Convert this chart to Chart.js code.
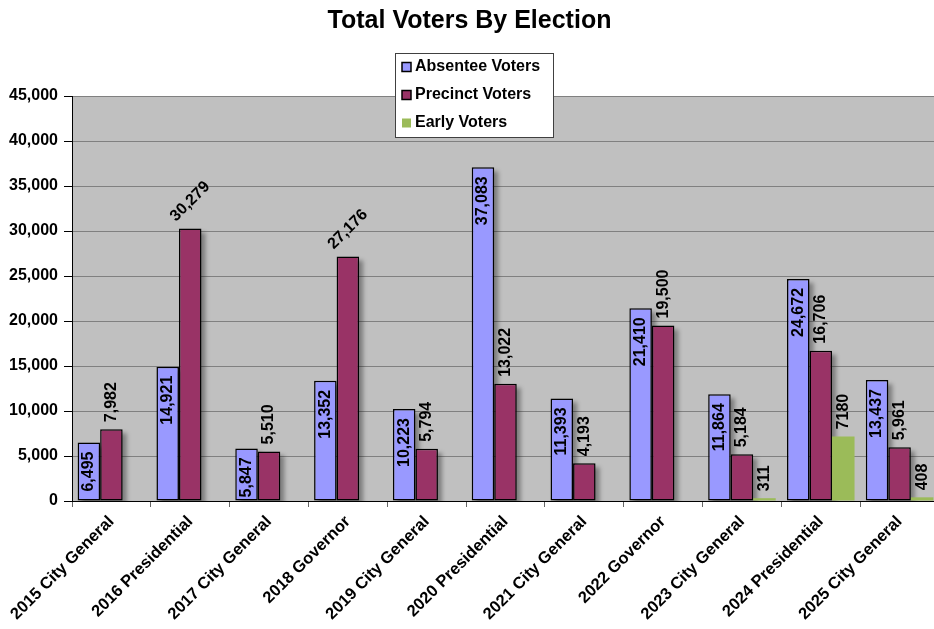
<!DOCTYPE html>
<html>
<head>
<meta charset="utf-8">
<title>Total Voters By Election</title>
<script src="https://cdn.jsdelivr.net/npm/chart.js@4.4.1/dist/chart.umd.min.js"></script>
<style>
  html, body { margin: 0; padding: 0; background: #fff; overflow: hidden; }
  #wrap { width: 934px; height: 629px; overflow: hidden; }
</style>
</head>
<body>
<div id="wrap"><canvas id="votersChart" width="939" height="629"></canvas></div>
<script>
// Election data
const elections = [
    '2015 City General', '2016 Presidential', '2017 City General', '2018 Governor',
    '2019 City General', '2020 Presidential', '2021 City General', '2022 Governor',
    '2023 City General', '2024 Presidential', '2025 City General'
];
const absenteeVoters = [6495, 14921, 5847, 13352, 10223, 37083, 11393, 21410, 11864, 24672, 13437];
const precinctVoters = [7982, 30279, 5510, 27176, 5794, 13022, 4193, 19500, 5184, 16706, 5961];
const earlyVoters = [null, null, null, null, null, null, null, null, 311, 7180, 408];

const FONT = '"Liberation Sans", Arial, sans-serif';

// precinct labels that sit tilted above their bar
const tiltedPrecinct = [1, 3];

const plotBackground = {
    id: 'plotBackground',
    beforeDraw(chart) {
        const { ctx, chartArea: a } = chart;
        ctx.save();
        ctx.fillStyle = '#C0C0C0';
        ctx.fillRect(a.left, a.top, a.width, a.height);
        ctx.restore();
    }
};

const barShadows = {
    id: 'barShadows',
    beforeDatasetsDraw(chart) {
        const { ctx, chartArea: a } = chart;
        ctx.save();
        ctx.beginPath();
        ctx.rect(a.left, a.top, a.width, a.height);
        ctx.clip();
        ctx.filter = 'blur(2px)';
        ctx.fillStyle = 'rgba(0, 0, 0, 0.35)';
        [0, 1].forEach(di => {
            chart.getDatasetMeta(di).data.forEach(bar => {
                const { x, y, base, width } = bar.getProps(['x', 'y', 'base', 'width'], true);
                if (isNaN(y)) return;
                ctx.fillRect(x - width / 2 + 4, y + 4, width, base - y);
            });
        });
        ctx.restore();
    }
};

const valueLabels = {
    id: 'valueLabels',
    afterDatasetsDraw(chart) {
        const { ctx } = chart;
        ctx.save();
        ctx.font = 'bold 16px ' + FONT;
        ctx.fillStyle = '#000';
        ctx.textBaseline = 'middle';
        chart.data.datasets.forEach((ds, di) => {
            chart.getDatasetMeta(di).data.forEach((bar, i) => {
                const v = ds.data[i];
                if (v == null) return;
                const text = di === 2 ? String(v) : v.toLocaleString('en-US');
                ctx.save();
                if (di === 0) {
                    ctx.translate(bar.x, bar.y + 9);
                    ctx.rotate(-Math.PI / 2);
                    ctx.textAlign = 'right';
                } else if (di === 1 && tiltedPrecinct.includes(i)) {
                    ctx.translate(bar.x, bar.y - 27);
                    ctx.rotate(-Math.PI / 4);
                    ctx.textAlign = 'center';
                } else {
                    ctx.translate(bar.x, bar.y - 7);
                    ctx.rotate(-Math.PI / 2);
                    ctx.textAlign = 'left';
                }
                ctx.fillText(text, 0, 0);
                ctx.restore();
            });
        });
        ctx.restore();
    }
};

const boxLegend = {
    id: 'boxLegend',
    afterDraw(chart) {
        const { ctx } = chart;
        const left = 395.5, top = 53.5, w = 158, h = 84;
        ctx.save();
        ctx.fillStyle = '#fff';
        ctx.fillRect(left, top, w, h);
        ctx.strokeStyle = '#404040';
        ctx.lineWidth = 1;
        ctx.strokeRect(left, top, w, h);
        ctx.font = 'bold 16px ' + FONT;
        ctx.textBaseline = 'middle';
        ctx.textAlign = 'left';
        chart.data.datasets.forEach((ds, i) => {
            const rowY = 67 + i * 28;
            ctx.fillStyle = ds.backgroundColor;
            ctx.fillRect(402, rowY - 4.5, 9, 9);
            if (ds.borderWidth) {
                ctx.strokeStyle = '#000';
                ctx.lineWidth = 1.5;
                ctx.strokeRect(402, rowY - 4.5, 9, 9);
            }
            ctx.fillStyle = '#000';
            ctx.fillText(ds.label, 415, rowY);
        });
        ctx.restore();
    }
};

const ctx = document.getElementById('votersChart').getContext('2d');

new Chart(ctx, {
    type: 'bar',
    data: {
        labels: elections,
        datasets: [{
            label: 'Absentee Voters',
            data: absenteeVoters,
            backgroundColor: '#9999FF',
            borderColor: '#000',
            borderWidth: 1.5,
            borderSkipped: false
        }, {
            label: 'Precinct Voters',
            data: precinctVoters,
            backgroundColor: '#993366',
            borderColor: '#000',
            borderWidth: 1.5,
            borderSkipped: false
        }, {
            label: 'Early Voters',
            data: earlyVoters,
            backgroundColor: '#9BBB59',
            borderWidth: 0
        }]
    },
    options: {
        responsive: false,
        animation: false,
        categoryPercentage: 0.857,
        barPercentage: 1.0,
        layout: { padding: { right: 0, left: 0 } },
        plugins: {
            legend: { display: false },
            tooltip: { enabled: false },
            title: {
                display: true,
                text: 'Total Voters By Election',
                color: '#000',
                font: { family: FONT, size: 25, weight: 'bold' },
                padding: { top: 6, bottom: 60 }
            }
        },
        scales: {
            x: {
                grid: {
                    display: true,
                    drawOnChartArea: false,
                    drawTicks: true,
                    tickLength: 6,
                    offset: true,
                    color: '#666'
                },
                border: { color: '#000', width: 1 },
                ticks: {
                    autoSkip: false,
                    minRotation: 45,
                    maxRotation: 45,
                    color: '#000',
                    padding: 5,
                    font: { family: FONT, size: 16.5, weight: 'bold' }
                },
                afterFit(scale) { scale.height = 128; }
            },
            y: {
                min: 0,
                max: 45000,
                grid: {
                    color: '#808080',
                    lineWidth: 1,
                    tickLength: 8,
                    tickColor: '#000'
                },
                border: { color: '#000', width: 1 },
                ticks: {
                    stepSize: 5000,
                    color: '#000',
                    padding: 6,
                    font: { family: FONT, size: 16, weight: 'bold' },
                    callback: v => v.toLocaleString('en-US')
                },
                afterFit(scale) { scale.width = 72; }
            }
        }
    },
    plugins: [plotBackground, barShadows, valueLabels, boxLegend]
});
</script>
</body>
</html>
